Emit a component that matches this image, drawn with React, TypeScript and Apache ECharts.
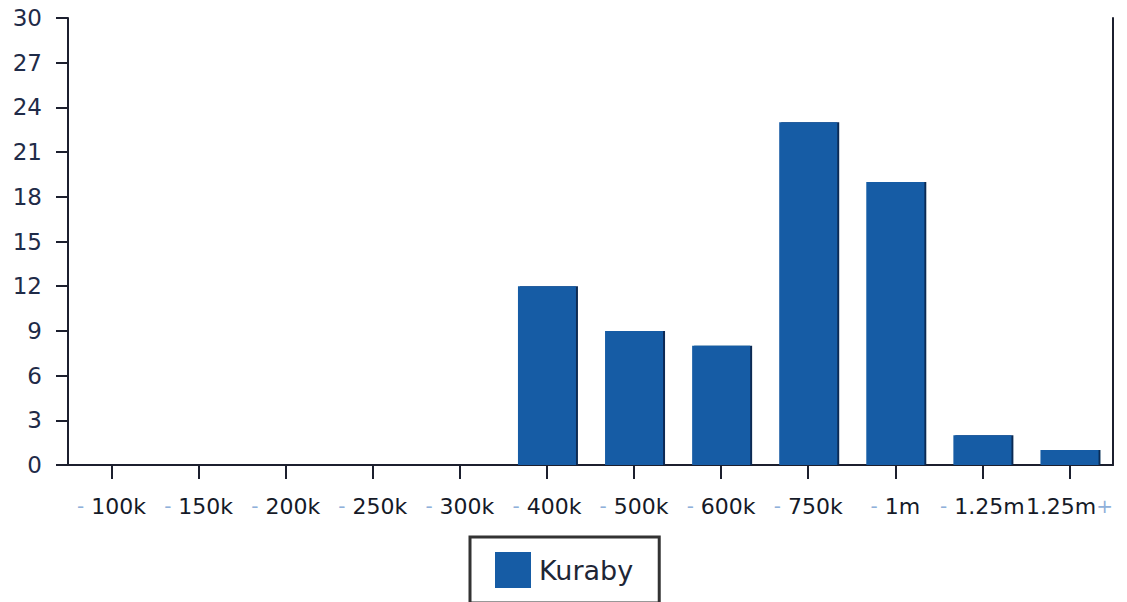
import React, { useEffect, useRef } from "react";
import * as echarts from "echarts";

const categories = ["100k", "150k", "200k", "250k", "300k", "400k", "500k", "600k", "750k", "1m", "1.25m", "1.25m+"];
const values = [0, 0, 0, 0, 0, 12, 9, 8, 23, 19, 2, 1];
const seriesName = "Kuraby";
const yMax = 30;
const yInterval = 3;

export default function App() {
  const ref = useRef<HTMLDivElement>(null);
  useEffect(() => {
    if (!ref.current) return;
    const chart = echarts.init(ref.current, undefined, { renderer: "svg" });
    const axisColor = "#1c1f2e";
    chart.setOption({
      animation: false,
      backgroundColor: "#ffffff",
      grid: { left: 68, right: 14, top: 18, bottom: 137, containLabel: false },
      legend: {
        data: [seriesName],
        left: 470,
        top: 537,
        orient: "horizontal",
        itemWidth: 36,
        itemHeight: 36,
        itemGap: 10,
        padding: [15, 26, 15, 25],
        borderColor: "#333333",
        borderWidth: 3,
        backgroundColor: "#ffffff",
        icon: "rect",
        textStyle: { fontFamily: "DejaVu Sans", fontSize: 27, color: "#1e2636", padding: [0, 0, 0, 3] },
      },
      xAxis: {
        type: "category",
        data: categories,
        boundaryGap: true,
        axisLine: { show: true, lineStyle: { color: axisColor, width: 2 } },
        axisTick: { show: true, alignWithLabel: true, length: 14, lineStyle: { color: axisColor, width: 2 } },
        axisLabel: {
          interval: 0,
          margin: 30,
          fontFamily: "DejaVu Sans",
          fontSize: 22,
          color: "#151a28",
          formatter: (v: string) => (v.endsWith("+") ? `${v.slice(0, -1)}{d|+}` : `{d|-} ${v}`),
          rich: { d: { color: "#8fb0da", fontSize: 20, fontFamily: "DejaVu Sans" } },
        },
        splitLine: { show: false },
      },
      yAxis: [
        {
          type: "value",
          min: 0,
          max: yMax,
          interval: yInterval,
          axisLine: { show: true, lineStyle: { color: axisColor, width: 2 } },
          axisTick: { show: true, length: 12, lineStyle: { color: axisColor, width: 2 } },
          axisLabel: { margin: 26, fontFamily: "DejaVu Sans", fontSize: 23, color: "#1f2b48" },
          splitLine: { show: false },
        },
        {
          type: "value",
          position: "right",
          min: 0,
          max: yMax,
          interval: yInterval,
          axisLine: { show: true, lineStyle: { color: axisColor, width: 2 } },
          axisTick: { show: false },
          axisLabel: { show: false },
          splitLine: { show: false },
        },
      ],
      series: [
        {
          name: seriesName,
          type: "bar",
          data: values,
          barWidth: 58,
          itemStyle: {
            color: "#165ca5",
            shadowColor: "#0c2a52",
            shadowOffsetX: 2,
            shadowOffsetY: 0,
            shadowBlur: 0,
          },
        },
      ],
    });
    return () => chart.dispose();
  }, []);
  return <div ref={ref} style={{ width: 1127, height: 602, position: "absolute", left: 0, top: 0 }} />;
}
